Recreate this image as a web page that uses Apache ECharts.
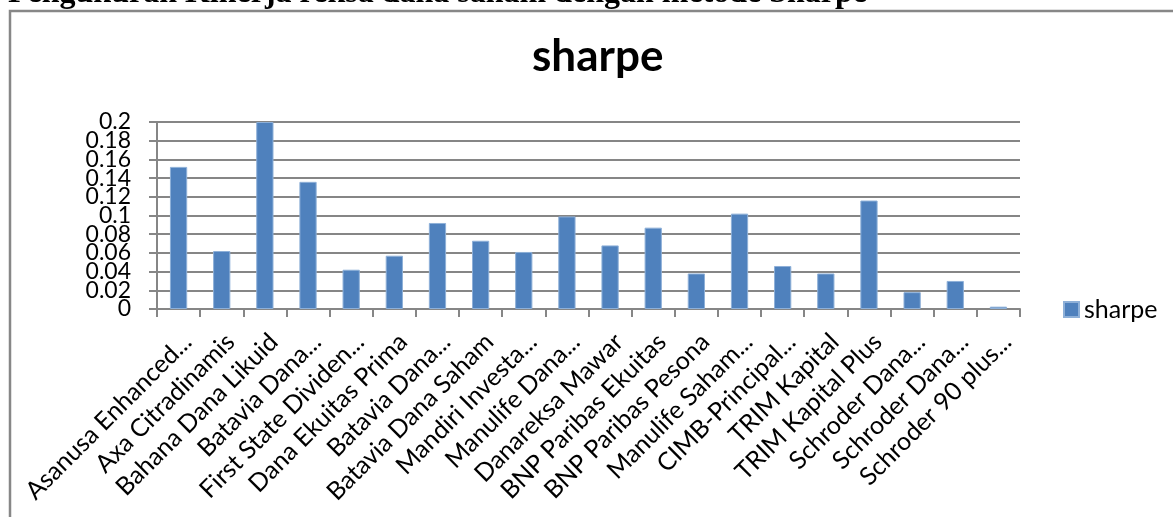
<!DOCTYPE html>
<html>
<head>
<meta charset="utf-8">
<script src="https://cdn.jsdelivr.net/npm/echarts@6/dist/echarts.min.js"></script>
<style>
html,body{margin:0;padding:0;background:#fff;}
#chart{width:1173px;height:517px;}
</style>
</head>
<body>
<div id="chart"></div>
<script>
const docHeading = 'Pengukuran Kinerja reksa dana saham dengan metode Sharpe';
const chartTitle = 'sharpe';
const seriesName = 'sharpe';
const categories = [
  'Asanusa Enhanced...', 'Axa Citradinamis', 'Bahana Dana Likuid', 'Batavia Dana...',
  'First State Dividen...', 'Dana Ekuitas Prima', 'Batavia Dana...', 'Batavia Dana Saham',
  'Mandiri Investa...', 'Manulife Dana...', 'Danareksa Mawar', 'BNP Paribas Ekuitas',
  'BNP Paribas Pesona', 'Manulife Saham...', 'CIMB-Principal...', 'TRIM Kapital',
  'TRIM Kapital Plus', 'Schroder Dana...', 'Schroder Dana...', 'Schroder 90 plus...'
];
const sharpeValues = [
  0.152, 0.062, 0.200, 0.136, 0.042, 0.057, 0.092, 0.073, 0.061, 0.099,
  0.068, 0.087, 0.038, 0.102, 0.046, 0.038, 0.116, 0.018, 0.030, 0.0025
];
const yTickLabels = ['0', '0.02', '0.04', '0.06', '0.08', '0.1', '0.12', '0.14', '0.16', '0.18', '0.2'];

const chart = echarts.init(document.getElementById('chart'), null, {renderer: 'canvas'});
const gray = '#868686';
const yStep = 0.02;
function labelFor(parity) {
  return function (v) {
    const i = Math.round(v / yStep);
    return (i % 2 === parity) ? yTickLabels[i] : '';
  };
}
const yLabelStyle = {margin: 26, fontFamily: 'Lato', fontSize: 23, color: '#000'};
chart.setOption({
  backgroundColor: '#ffffff',
  animation: false,
  title: {
    text: chartTitle,
    left: 532,
    top: 35,
    padding: 0,
    textStyle: {fontFamily: 'Lato', fontWeight: 'bold', fontSize: 44, color: '#000'}
  },
  legend: {
    data: [seriesName],
    left: 1063,
    top: 297,
    padding: 0,
    orient: 'vertical',
    itemWidth: 15,
    itemHeight: 15,
    itemGap: 6,
    icon: 'rect',
    textStyle: {fontFamily: 'Lato', fontSize: 25, color: '#000'}
  },
  grid: {left: 157, right: 153, top: 122, bottom: 208, containLabel: false},
  xAxis: {
    type: 'category',
    data: categories,
    axisLine: {show: true, lineStyle: {color: gray, width: 2}},
    axisTick: {show: true, length: 8, lineStyle: {color: gray, width: 2}},
    axisLabel: {
      interval: 0,
      rotate: 45,
      margin: 20,
      align: 'right',
      verticalAlign: 'top',
      fontFamily: 'Lato',
      fontSize: 25,
      color: '#000'
    },
    splitLine: {show: false}
  },
  yAxis: [
    {
      type: 'value',
      min: 0,
      max: 0.2,
      interval: yStep,
      position: 'left',
      axisLine: {show: true, lineStyle: {color: gray, width: 2}},
      axisTick: {show: true, length: 8, lineStyle: {color: gray, width: 2}},
      axisLabel: Object.assign({}, yLabelStyle, {
        showMinLabel: true, showMaxLabel: true, formatter: labelFor(0)
      }),
      splitLine: {show: true, lineStyle: {color: gray, width: 2}}
    },
    {
      type: 'value',
      min: 0,
      max: 0.2,
      interval: yStep,
      position: 'left',
      offset: 0,
      axisLine: {show: false},
      axisTick: {show: false},
      axisLabel: Object.assign({}, yLabelStyle, {
        showMinLabel: false, showMaxLabel: false, formatter: labelFor(1)
      }),
      splitLine: {show: false}
    }
  ],
  series: [{
    name: seriesName,
    type: 'bar',
    data: sharpeValues,
    yAxisIndex: 0,
    barWidth: '40%',
    itemStyle: {color: '#4F81BD', borderColor: '#8eb0d8', borderWidth: 1}
  }],
  graphic: [
    {
      type: 'rect',
      shape: {x: 10, y: 11, width: 1200, height: 560},
      style: {fill: 'none', stroke: '#878787', lineWidth: 2.5},
      silent: true,
      z: -1
    },
    {
      type: 'text',
      x: 8,
      y: 10,
      style: {
        text: docHeading,
        font: 'bold 32px "Liberation Serif"',
        fill: '#000',
        align: 'left',
        verticalAlign: 'bottom'
      },
      silent: true
    }
  ]
});
</script>
</body>
</html>
